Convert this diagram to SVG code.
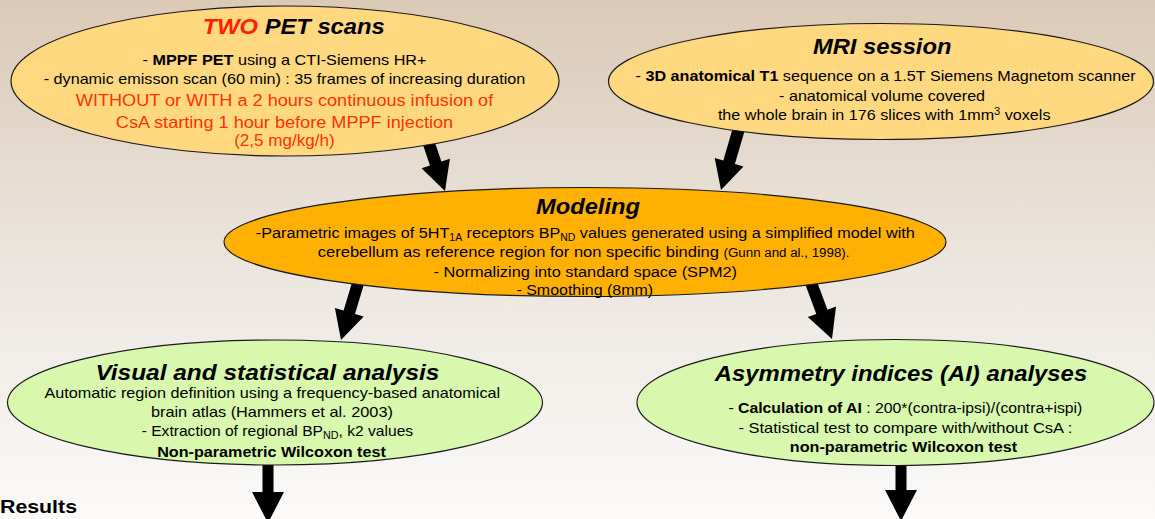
<svg xmlns="http://www.w3.org/2000/svg" width="1155" height="519" viewBox="0 0 1155 519">
<defs>
<linearGradient id="bg" x1="0" y1="0" x2="0" y2="1">
<stop offset="0" stop-color="#dbcab6"/>
<stop offset="0.5" stop-color="#ebe5de"/>
<stop offset="1" stop-color="#fbfaf9"/>
</linearGradient>
<style>
.node{stroke:#1a1a1a;stroke-width:1.2}
.pale{fill:#ffd87f}
.amber{fill:#ffb000}
.green{fill:#d8f8ae}
.title{font-family:"Liberation Sans",Arial,sans-serif;font-size:22px;font-weight:bold;font-style:italic;fill:#000;text-anchor:middle}
.body{font-family:"Liberation Sans",Arial,sans-serif;font-size:14.5px;fill:#000;text-anchor:middle}
.tall{font-size:15.5px}
.red{font-family:"Liberation Sans",Arial,sans-serif;font-size:16px;fill:#ff3300;text-anchor:middle}
.b{font-weight:bold}
.arrow{fill:#000}
</style>
</defs>
<rect x="0" y="0" width="1155" height="519" fill="url(#bg)"/>

<g id="connectors">
<polygon class="arrow" points="420.3,136.9 430.0,165.4 421.5,168.3 445,191 449.9,158.7 441.4,161.6 431.7,133.1"/>
<polygon class="arrow" points="734.2,123.3 723.3,160.5 714.7,158.0 721,190 743.5,166.4 734.9,163.9 745.8,126.7"/>
<polygon class="arrow" points="353.3,278.3 343.6,310.5 334.9,307.9 341,340 363.7,316.5 355.0,313.9 364.7,281.7"/>
<polygon class="arrow" points="804.4,282.1 816.3,313.9 807.8,317.0 832,339 836.0,306.6 827.5,309.7 815.6,277.9"/>
<polygon class="arrow" points="262.5,460 273.5,460 273.5,492 284,492 268,523 252,492 262.5,492"/>
<polygon class="arrow" points="895.5,460 906.5,460 906.5,490 917,490 901,521 885,490 895.5,490"/>
</g>

<g id="pet">
<ellipse class="node pale" cx="285" cy="81" rx="274" ry="75"/>
<text class="title" x="293.7" y="34" textLength="182" lengthAdjust="spacingAndGlyphs"><tspan fill="#ff2200">TWO</tspan> PET scans</text>
<text class="body" x="284.5" y="65" textLength="284" lengthAdjust="spacingAndGlyphs">- <tspan class="b">MPPF PET</tspan> using a CTI-Siemens HR+</text>
<text class="body" x="284.5" y="84" textLength="481.6" lengthAdjust="spacingAndGlyphs">- dynamic emisson scan (60 min) : 35 frames of increasing duration</text>
<text class="red" x="284.5" y="105.5" textLength="417.4" lengthAdjust="spacingAndGlyphs">WITHOUT or WITH a 2 hours continuous infusion of</text>
<text class="red" x="284.5" y="127.5" textLength="337.4" lengthAdjust="spacingAndGlyphs">CsA starting 1 hour before MPPF injection</text>
<text class="red" x="284.5" y="145.5" textLength="100.6" lengthAdjust="spacingAndGlyphs">(2,5 mg/kg/h)</text>
</g>

<g id="mri">
<ellipse class="node pale" cx="881" cy="81.5" rx="272.5" ry="58"/>
<text class="title" x="882.2" y="54" textLength="138.6" lengthAdjust="spacingAndGlyphs">MRI session</text>
<text class="body" x="885.6" y="80.5" textLength="500" lengthAdjust="spacingAndGlyphs">- <tspan class="b">3D anatomical T1</tspan> sequence on a 1.5T Siemens Magnetom scanner</text>
<text class="body" x="882.1" y="100.5" textLength="206" lengthAdjust="spacingAndGlyphs">- anatomical volume covered</text>
<text class="body" x="884.2" y="119.5" textLength="332.6" lengthAdjust="spacingAndGlyphs">the whole brain in 176 slices with 1mm<tspan font-size="10" dy="-5">3</tspan><tspan dy="5"> voxels</tspan></text>
</g>

<g id="modeling">
<ellipse class="node amber" cx="585" cy="242" rx="361" ry="54.5"/>
<text class="title" x="588" y="213.5" textLength="104" lengthAdjust="spacingAndGlyphs">Modeling</text>
<text class="body tall" x="585.3" y="237.5" textLength="659" lengthAdjust="spacingAndGlyphs">-Parametric images of 5HT<tspan font-size="10" dy="3">1A</tspan><tspan dy="-3"> receptors BP</tspan><tspan font-size="10" dy="3">ND</tspan><tspan dy="-3"> values generated using a simplified model with</tspan></text>
<text class="body tall" x="583.6" y="256.5" textLength="531.7" lengthAdjust="spacingAndGlyphs">cerebellum as reference region for non specific binding <tspan font-size="12.5">(Gunn and al., 1998).</tspan></text>
<text class="body tall" x="585.3" y="276.5" textLength="303.5" lengthAdjust="spacingAndGlyphs">- Normalizing into standard space (SPM2)</text>
<text class="body tall" x="584.8" y="294.5" textLength="136.7" lengthAdjust="spacingAndGlyphs">- Smoothing (8mm)</text>
</g>

<g id="visual">
<ellipse class="node green" cx="275" cy="402.5" rx="267.5" ry="62.5"/>
<text class="title" x="267.4" y="379.5" textLength="344" lengthAdjust="spacingAndGlyphs">Visual and statistical analysis</text>
<text class="body" x="272.3" y="397.5" textLength="455.8" lengthAdjust="spacingAndGlyphs">Automatic region definition using a frequency-based anatomical</text>
<text class="body" x="271.9" y="416.5" textLength="242" lengthAdjust="spacingAndGlyphs">brain atlas (Hammers et al. 2003)</text>
<text class="body" x="277.4" y="436" textLength="271.5" lengthAdjust="spacingAndGlyphs">- Extraction of regional BP<tspan font-size="10" dy="3">ND</tspan><tspan dy="-3">, k2 values</tspan></text>
<text class="body b" x="271.5" y="457" textLength="228.7" lengthAdjust="spacingAndGlyphs">Non-parametric Wilcoxon test</text>
</g>

<g id="asymmetry">
<ellipse class="node green" cx="895.5" cy="402.5" rx="258.5" ry="63"/>
<text class="title" x="901" y="381" textLength="372.3" lengthAdjust="spacingAndGlyphs">Asymmetry indices (AI) analyses</text>
<text class="body" x="905.4" y="413" textLength="354" lengthAdjust="spacingAndGlyphs">- <tspan class="b">Calculation of AI</tspan> : 200*(contra-ipsi)/(contra+ispi)</text>
<text class="body" x="905.4" y="432.5" textLength="334" lengthAdjust="spacingAndGlyphs">- Statistical test to compare with/without CsA :</text>
<text class="body b" x="903.4" y="452" textLength="227.3" lengthAdjust="spacingAndGlyphs">non-parametric Wilcoxon test</text>
</g>

<text id="results" x="0" y="513" font-family="Liberation Sans, Arial, sans-serif" font-size="19" font-weight="bold" textLength="77" lengthAdjust="spacingAndGlyphs">Results</text>
</svg>
